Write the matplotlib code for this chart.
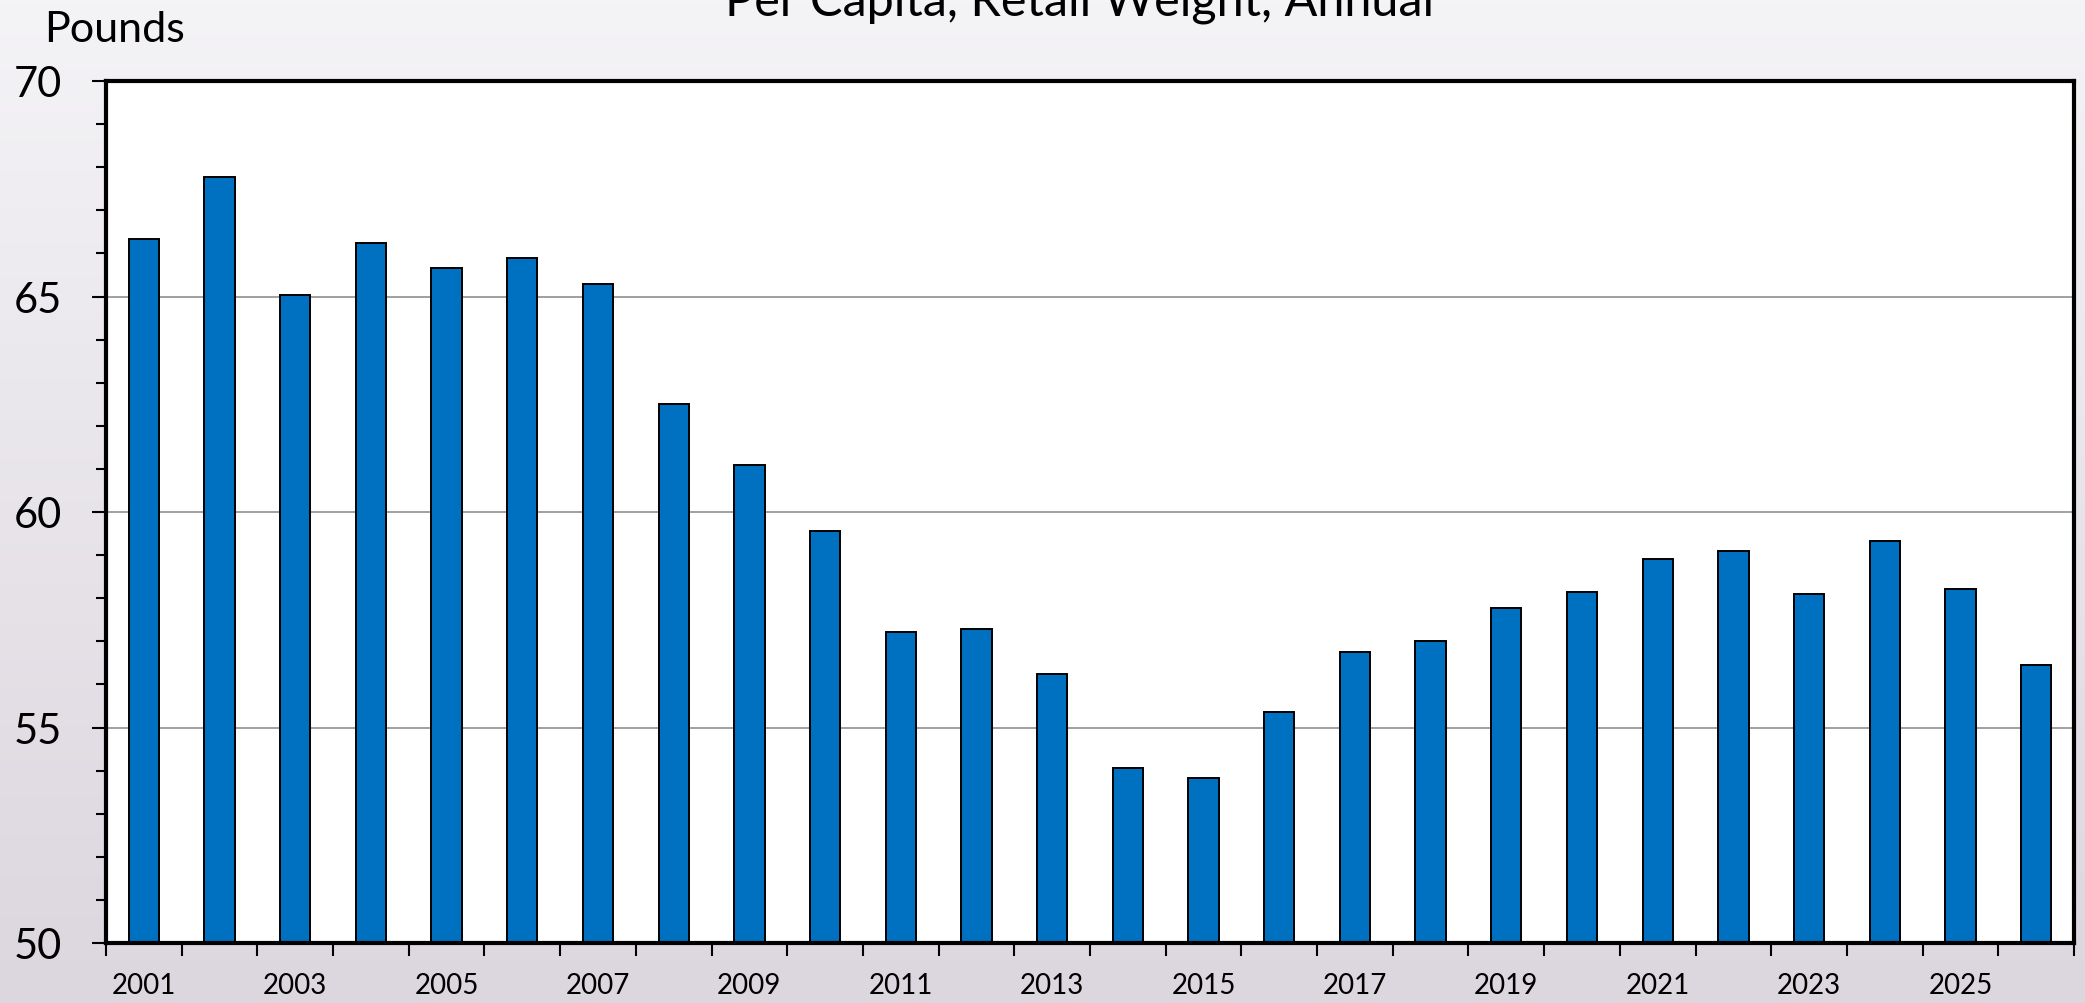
import matplotlib.pyplot as plt
import numpy as np
from matplotlib.ticker import MultipleLocator, FixedLocator

years = list(range(2001, 2027))
pounds = [66.33, 67.78, 65.03, 66.23, 65.65, 65.90, 65.30, 62.50, 61.10, 59.57,
          57.22, 57.28, 56.23, 54.07, 53.83, 55.37, 56.76, 57.00, 57.78, 58.15,
          58.92, 59.10, 58.09, 59.32, 58.21, 56.45]
tick_years = [str(y) for y in years]

plt.rcParams['font.family'] = ['Lato', 'DejaVu Sans']

fig = plt.figure(figsize=(20.85, 10.04), dpi=100)

# background gradient
bg = fig.add_axes([0, 0, 1, 1], zorder=-10)
grad = np.linspace(0, 1, 256).reshape(-1, 1)
top = np.array([244, 243, 246]) / 255
bot = np.array([220, 214, 222]) / 255
img = top + (bot - top) * grad[:, :, None]
bg.imshow(img, aspect='auto', extent=[0, 1, 0, 1])
bg.axis('off')

ax = fig.add_axes([106 / 2085, 1 - 944 / 1004, (2074 - 106) / 2085, (944 - 82) / 1004])
ax.set_facecolor('white')

x = np.arange(len(years))
ax.bar(x, pounds, width=0.4, color='#0070C0', edgecolor='black', linewidth=1.4, zorder=3)

ax.set_ylim(50, 70)
ax.set_xlim(-0.5, len(years) - 0.5)
ax.yaxis.set_major_locator(MultipleLocator(5))
ax.yaxis.set_minor_locator(MultipleLocator(1))
ax.grid(axis='y', which='major', color='#999999', linewidth=1.3, zorder=1)

ax.set_xticks(x[::2])
ax.set_xticklabels(tick_years[::2])
ax.xaxis.set_minor_locator(FixedLocator(np.arange(-0.5, len(years), 1.0)))

ax.tick_params(axis='y', which='major', length=10, width=1.5, labelsize=30, pad=22)
ax.tick_params(axis='y', which='minor', length=7, width=1.5)
ax.tick_params(axis='x', which='major', length=0, labelsize=20, pad=21)
ax.tick_params(axis='x', which='minor', length=9, width=1.5)

for s in ax.spines.values():
    s.set_linewidth(3)
    s.set_color('black')
    s.set_zorder(5)

fig.text(0.021, 0.958, 'Pounds', fontsize=31, ha='left', va='baseline')
fig.text(0.518, 0.985, 'Per Capita, Retail Weight, Annual', fontsize=35, ha='center', va='baseline')

fig.savefig('out.png', dpi=100)
